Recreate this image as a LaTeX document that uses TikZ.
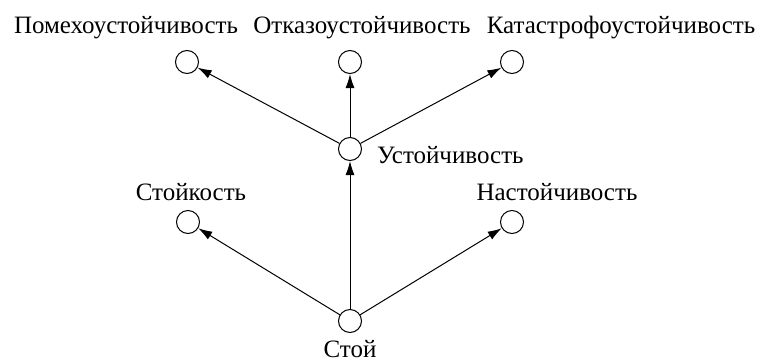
\documentclass[tikz,border=0pt]{standalone}
\usepackage{fontspec}
\newfontfamily\timesfont{Liberation Serif}
\usetikzlibrary{arrows.meta}

\begin{document}
\begin{tikzpicture}[x=1pt, y=-1pt, font=\timesfont\fontsize{25}{30}\selectfont,
    vert/.style={draw, circle, minimum size=23pt, inner sep=0pt, line width=1pt},
    edge/.style={line width=1pt, -{Latex[length=14pt,width=9pt]}}]
    \useasboundingbox (0,0) rectangle (758,362);
    % vertices
    \node[vert] (stoj) at (350,321) {};
    \node[vert] (stojkost) at (188,222) {};
    \node[vert] (nastoj) at (512,222) {};
    \node[vert] (ustoj) at (350,149) {};
    \node[vert] (pomeh) at (187,62) {};
    \node[vert] (otkaz) at (350,62) {};
    \node[vert] (katastr) at (512,62) {};
    % labels
    \node[anchor=base, inner sep=0pt] (stojL) at (350,357) {Стой};
    \node[anchor=base, inner sep=0pt] (stojkostL) at (191,200) {Стойкость};
    \node[anchor=base, inner sep=0pt] (nastojL) at (557,200) {Настойчивость};
    \node[anchor=base west, inner sep=0pt] (ustojL) at (377,163) {Устойчивость};
    \node[anchor=base, inner sep=0pt] (pomehL) at (126,33) {Помехоустойчивость};
    \node[anchor=base, inner sep=0pt] (otkazL) at (362,33) {Отказоустойчивость};
    \node[anchor=base, inner sep=0pt] (katastrL) at (621,33) {Катастрофоустойчивость};
    % arrows
    \draw[edge] (stoj) -- (stojkost);
    \draw[edge] (stoj) -- (nastoj);
    \draw[edge] (stoj) -- (ustoj);
    \draw[edge] (ustoj) -- (pomeh);
    \draw[edge] (ustoj) -- (otkaz);
    \draw[edge] (ustoj) -- (katastr);
\end{tikzpicture}
\end{document}
